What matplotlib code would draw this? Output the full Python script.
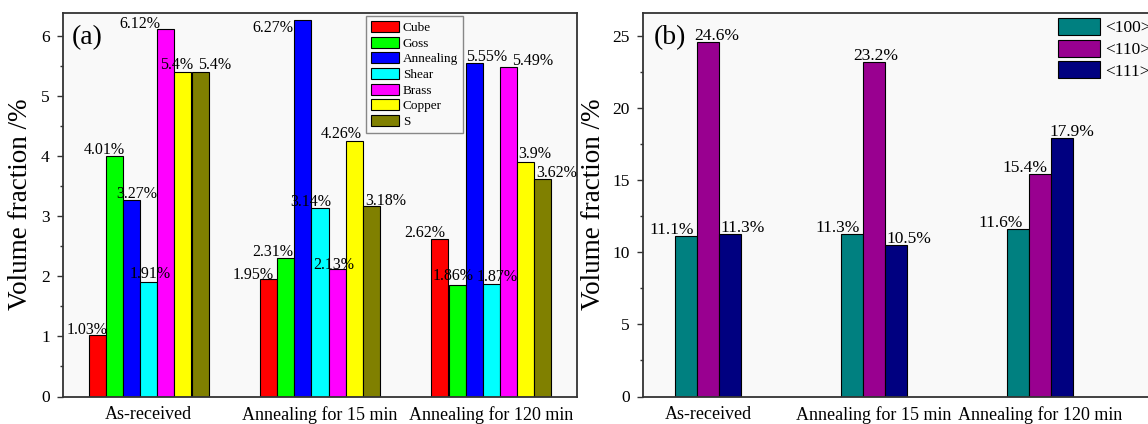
import matplotlib
matplotlib.use("Agg")
import matplotlib.pyplot as plt
import numpy as np
from matplotlib.patches import Patch

plt.rcParams['font.family'] = ['Liberation Serif', 'DejaVu Serif']

# ---------------- data ----------------
categories = ['As-received', 'Annealing for 15 min', 'Annealing for 120 min']

components = ['Cube', 'Goss', 'Annealing', 'Shear', 'Brass', 'Copper', 'S']
cube = [1.03, 1.95, 2.62]
goss = [4.01, 2.31, 1.86]
annealing = [3.27, 6.27, 5.55]
shear = [1.91, 3.14, 1.87]
brass = [6.12, 2.13, 5.49]
copper = [5.4, 4.26, 3.9]
s_comp = [5.4, 3.18, 3.62]

orientations = ['<100>', '<110>', '<111>']
o100 = [11.1, 11.3, 11.6]
o110 = [24.6, 23.2, 15.4]
o111 = [11.3, 10.5, 17.9]

# ---------------- style ----------------
comp_colors = ['#ff0000', '#00ff00', '#0000ff', '#00ffff', '#ff00ff', '#ffff00', '#808000']
orient_colors = ['#008080', '#990090', '#000080']

# label offsets in pixels (dx, dy) per series, per category
comp_label_off = [
    [(-10, 1), (-15, 0), (-15, 2)],     # Cube
    [(-10, 2), (-13, 2), (-4, 5)],      # Goss
    [(5, 2), (-30, -12), (12, 2)],      # Annealing
    [(2, 4), (-9, 2), (6, 3)],          # Shear
    [(-26, 1), (-3, 0), (24, 2)],       # Brass
    [(-6, 3), (-13, 3), (9, 4)],        # Copper
    [(15, 3), (14, 1), (14, 2)],        # S
]
orient_label_off = [
    [(-14, 2), (-14, 2), (-17, 2)],
    [(9, 2), (2, 2), (-15, 2)],
    [(13, 2), (13, 2), (10, 2)],
]

W, H = 1148, 424
fig = plt.figure(figsize=(W / 100, H / 100), dpi=100)
fig.patch.set_facecolor('white')


def rect(l, r, t, b):
    return [l / W, 1 - b / H, (r - l) / W, (b - t) / H]


axA = fig.add_axes(rect(63, 577, 13, 396.5))
axB = fig.add_axes(rect(643, 1170, 13, 396.5))

spine_col = '#333333'


def style_axes(ax):
    ax.set_facecolor('#f9f9f9')
    for sp in ax.spines.values():
        sp.set_color(spine_col)
        sp.set_linewidth(1.3)
    ax.tick_params(axis='y', which='major', direction='out', length=4.5, width=1,
                   pad=5, labelsize=12.5, color=spine_col)
    ax.tick_params(axis='y', which='minor', direction='out', length=2.5, width=1,
                   color=spine_col)
    ax.tick_params(axis='x', length=0, pad=7, labelsize=13)
    ax.set_ylabel('Volume fraction /%', fontsize=19.5)


# ---------------- panel (a) ----------------
series_a = [cube, goss, annealing, shear, brass, copper, s_comp]
xpos = np.arange(len(categories))
wa = 0.1
for i, vals in enumerate(series_a):
    xs = xpos + (i - 3) * wa
    axA.bar(xs, vals, wa, color=comp_colors[i], edgecolor='black', linewidth=0.8,
            label=components[i], zorder=2)
    for j, v in enumerate(vals):
        dx, dy = comp_label_off[i][j]
        axA.annotate(f'{v:g}%', (xs[j], v), xytext=(dx, dy), textcoords='offset pixels',
                     ha='center', va='baseline', fontsize=11.5, zorder=3)

axA.set_xlim(-0.5, 2.5)
axA.set_ylim(0, 6.39)
axA.set_yticks(np.arange(0, 7, 1))
axA.set_yticks(np.arange(0.5, 6.4, 1), minor=True)
axA.set_xticks(xpos)
axA.set_xticklabels(categories)
style_axes(axA)
axA.yaxis.set_label_coords(-0.058, 0.5)
axA.text(0.0175, 0.937, '(a)', transform=axA.transAxes, fontsize=20,
         ha='left', va='center')

handles_a = [Patch(facecolor=c, edgecolor='black', linewidth=0.8) for c in comp_colors]
legA = axA.legend(handles_a, components, loc='upper left',
                  bbox_to_anchor=(366 / W, 1 - 16 / H), bbox_transform=fig.transFigure,
                  fontsize=9.5, handlelength=2.1, handleheight=0.9, labelspacing=0.2,
                  handletextpad=0.3, borderpad=0.38, borderaxespad=0,
                  fancybox=False, framealpha=1, facecolor='#f9f9f9', edgecolor='#888888')
legA.get_frame().set_linewidth(1.0)

# ---------------- panel (b) ----------------
series_b = [o100, o110, o111]
wb = 0.1325
for i, vals in enumerate(series_b):
    xs = xpos + (i - 1) * wb
    axB.bar(xs, vals, wb, color=orient_colors[i], edgecolor='black', linewidth=0.8,
            label=orientations[i], zorder=2)
    for j, v in enumerate(vals):
        dx, dy = orient_label_off[i][j]
        axB.annotate(f'{v:g}%', (xs[j], v), xytext=(dx, dy), textcoords='offset pixels',
                     ha='center', va='baseline', fontsize=12.5, zorder=3)

axB.set_xlim(-0.392, 2.783)
axB.set_ylim(0, 26.6)
axB.set_yticks(np.arange(0, 26, 5))
axB.set_yticks(np.arange(2.5, 26, 5), minor=True)
axB.set_xticks(xpos)
axB.set_xticklabels(categories)
style_axes(axB)
axB.yaxis.set_label_coords(-0.070, 0.5)
axB.text(0.021, 0.937, '(b)', transform=axB.transAxes, fontsize=20,
         ha='left', va='center')

handles_b = [Patch(facecolor=c, edgecolor='black', linewidth=0.8) for c in orient_colors]
axB.legend(handles_b, orientations, loc='upper left',
           bbox_to_anchor=(1058 / W, 1 - 18 / H), bbox_transform=fig.transFigure,
           fontsize=12.5, handlelength=2.4, handleheight=1.14, labelspacing=0.18,
           handletextpad=0.3, borderpad=0, borderaxespad=0, frameon=False)

fig.savefig('out.png', dpi=100)
